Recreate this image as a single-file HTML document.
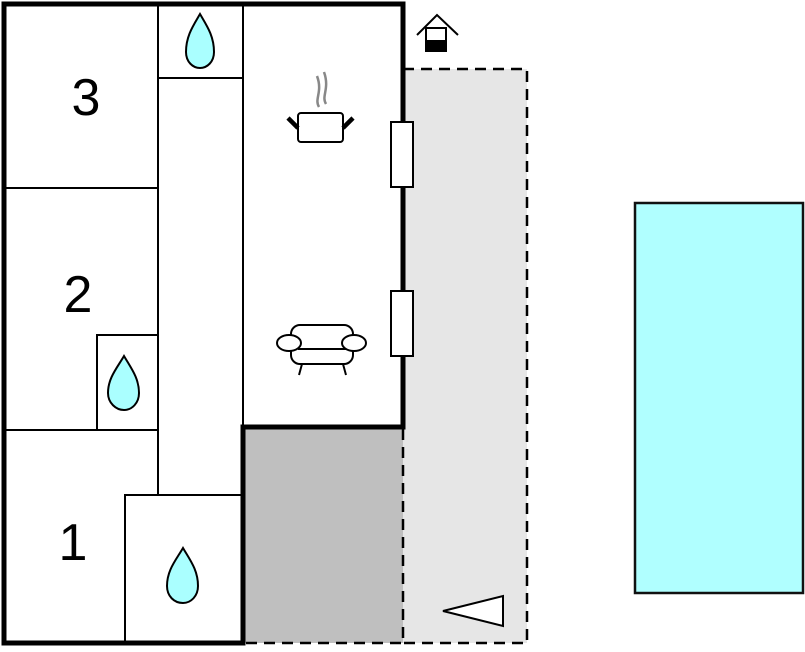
<!DOCTYPE html>
<html><head><style>html,body{margin:0;padding:0;background:#fff}svg{display:block}</style></head><body>
<svg width="805" height="652" viewBox="0 0 805 652" xmlns="http://www.w3.org/2000/svg">
<rect x="403" y="69" width="124" height="574" fill="#e6e6e6"/>
<path d="M403 69 H527 V643 H403" fill="none" stroke="#000" stroke-width="2.5" stroke-dasharray="11,7"/>
<rect x="245" y="429" width="158" height="214" fill="#bfbfbf"/>
<path d="M403 429 V643 H245" fill="none" stroke="#000" stroke-width="2.5" stroke-dasharray="11,7"/>
<rect x="4" y="4" width="399" height="423" fill="#fff"/>
<rect x="4" y="427" width="239" height="216" fill="#fff"/>
<g stroke="#000" stroke-width="2" fill="none">
<line x1="158" y1="4" x2="158" y2="495"/>
<line x1="243" y1="4" x2="243" y2="427"/>
<line x1="158" y1="78" x2="243" y2="78"/>
<line x1="4" y1="188" x2="158" y2="188"/>
<line x1="4" y1="430" x2="158" y2="430"/>
<rect x="97" y="335" width="61" height="95"/>
<rect x="125" y="495" width="118" height="148"/>
</g>
<g stroke="#000" stroke-width="5" fill="none" stroke-linecap="square">
<path d="M4 4 H403 V427 H243 V643 H4 Z"/>
</g>
<rect x="391" y="122" width="22" height="65" fill="#fff" stroke="#000" stroke-width="2"/>
<rect x="391" y="291" width="22" height="65" fill="#fff" stroke="#000" stroke-width="2"/>
<g fill="#aaffff" stroke="#000" stroke-width="2">
<path d="M200 14 C193 26 186 36 186 52 C186 62 193 68 200 68 C207 68 214 62 214 52 C214 36 207 26 200 14 Z"/>
<path d="M124 356 C117 368 108 378 108 393 C108 403 116 410 124 410 C132 410 139 403 139 393 C139 378 131 368 124 356 Z"/>
<path d="M183 548 C176 560 167 570 167 586 C167 596 174 603 183 603 C191 603 198 596 198 586 C198 570 190 560 183 548 Z"/>
</g>
<g font-family="Liberation Sans, sans-serif" font-size="52" text-anchor="middle" fill="#000">
<text x="86" y="115">3</text>
<text x="78" y="312">2</text>
<text x="73" y="560">1</text>
</g>
<g fill="none">
<path d="M319 107 C314 99 323 92 317 76 M326 104 C321 96 330 89 324 72" stroke="#888" stroke-width="2.5"/>
<rect x="298" y="113" width="45" height="29" rx="3" fill="#fff" stroke="#000" stroke-width="2"/>
<line x1="288" y1="118" x2="298" y2="128" stroke="#000" stroke-width="4.5"/>
<line x1="353" y1="118" x2="343" y2="128" stroke="#000" stroke-width="4.5"/>
</g>
<g fill="#fff" stroke="#000" stroke-width="2">
<path d="M302 364 L299 375 M343 364 L346 375"/>
<rect x="291" y="325" width="62" height="39" rx="9"/>
<line x1="298" y1="349" x2="346" y2="349"/>
<ellipse cx="289" cy="343" rx="12" ry="8"/>
<ellipse cx="354" cy="343" rx="12" ry="8"/>
</g>
<g>
<path d="M417 35 L437 15 L458 35" fill="none" stroke="#000" stroke-width="2"/>
<rect x="426" y="28" width="20" height="22" fill="#fff" stroke="#000" stroke-width="2"/>
<rect x="425" y="40" width="22" height="12" fill="#000"/>
</g>
<polygon points="443,611 503,596 503,626" fill="#fff" stroke="#000" stroke-width="2"/>
<rect x="635" y="203" width="168" height="390" fill="#b0ffff" stroke="#111" stroke-width="2.5"/>
</svg>
</body></html>
